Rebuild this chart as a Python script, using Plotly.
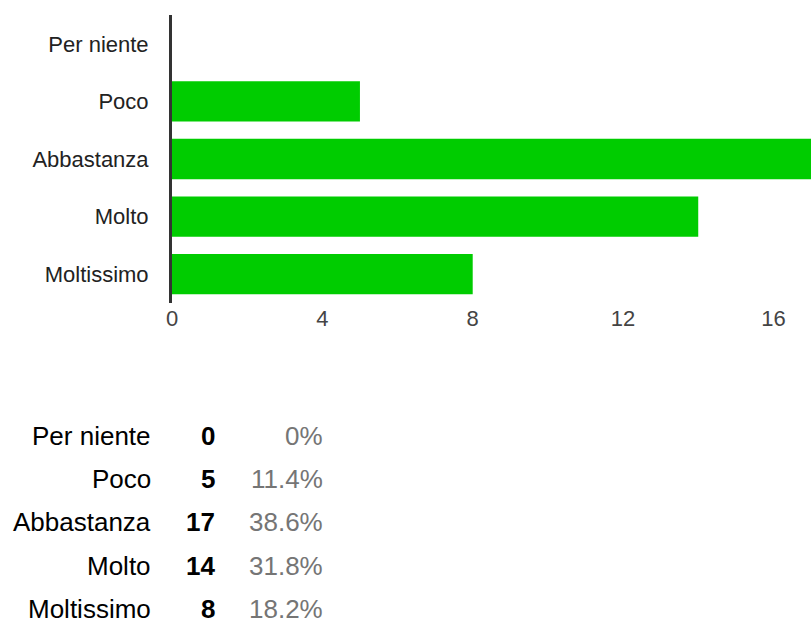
import plotly.graph_objects as go

categories = ["Per niente", "Poco", "Abbastanza", "Molto", "Moltissimo"]
counts = [0, 5, 17, 14, 8]
percents = ["0%", "11.4%", "38.6%", "31.8%", "18.2%"]
x_ticks = [0, 4, 8, 12, 16]

W, H = 811, 621
L, R, T, B = 172, 0, 15, 318
plot_w = W - L - R
plot_h = H - T - B

fig = go.Figure(go.Bar(
    x=counts, y=categories, orientation="h",
    marker=dict(color="#00cc00", line=dict(width=0)),
    width=0.7,
))

FONT = "Liberation Sans, Arial, sans-serif"

fig.update_layout(
    width=W, height=H,
    margin=dict(l=L, r=R, t=T, b=B, pad=0),
    plot_bgcolor="white", paper_bgcolor="white",
    showlegend=False,
    font=dict(family=FONT, size=22, color="#222222"),
    xaxis=dict(range=[0, 17], tickvals=x_ticks, showgrid=False, zeroline=False,
               showline=False, ticks="", ticklen=0,
               tickfont=dict(size=22, color="#444444"), fixedrange=True),
    yaxis=dict(autorange="reversed", showgrid=False, zeroline=False,
               showline=True, linecolor="#333333", linewidth=3,
               ticks="outside", ticklen=16, tickcolor="rgba(0,0,0,0)",
               tickfont=dict(size=22, color="#222222")),
)

# summary table below the chart (pixel layout converted to paper coords)
row_y0, row_step = 436, 43.2
label_right, num_right, pct_right = 152, 216, 324

def px_x(p):
    return (p - L) / plot_w

def px_y(p):
    return (H - B - p) / plot_h

for i, (c, n, p) in enumerate(zip(categories, counts, percents)):
    yy = px_y(row_y0 + i * row_step)
    fig.add_annotation(x=px_x(label_right), y=yy, xref="paper", yref="paper",
                       text=c, showarrow=False, xanchor="right", yanchor="middle",
                       borderpad=0, font=dict(family=FONT, size=26, color="#000000"))
    fig.add_annotation(x=px_x(num_right), y=yy, xref="paper", yref="paper",
                       text=f"<b>{n}</b>", showarrow=False, xanchor="right", yanchor="middle",
                       borderpad=0, font=dict(family=FONT, size=26, color="#000000"))
    fig.add_annotation(x=px_x(pct_right), y=yy, xref="paper", yref="paper",
                       text=p, showarrow=False, xanchor="right", yanchor="middle",
                       borderpad=0, font=dict(family=FONT, size=26, color="#757575"))

fig.write_html("out.html", config={"displayModeBar": False},
               post_script="document.body.style.margin='0';document.body.style.padding='0';document.body.style.overflow='hidden';")
